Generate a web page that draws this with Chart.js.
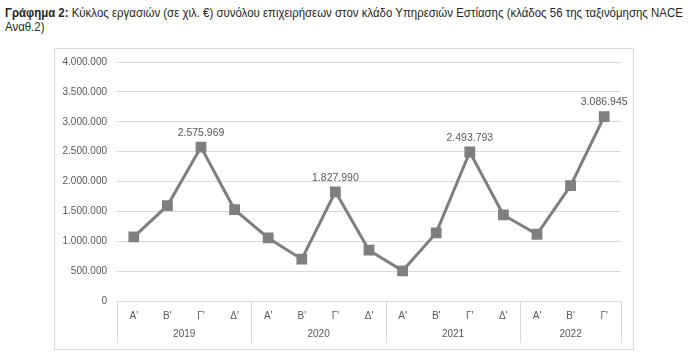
<!DOCTYPE html>
<html>
<head>
<meta charset="utf-8">
<script src="https://cdn.jsdelivr.net/npm/chart.js@4"></script>
<style>
  html, body { margin: 0; padding: 0; background: #fff; }
  body { width: 700px; height: 358px; position: relative; overflow: hidden; }
  #title { position: absolute; left: 5px; top: 6px; font-family: 'Liberation Sans', sans-serif; font-size: 13px; line-height: 14px; color: #262626; white-space: nowrap; transform: scaleX(0.88); transform-origin: 0 0; }
  #title b { font-weight: bold; }
  #box { position: absolute; left: 54px; top: 48px; width: 578px; height: 300px; border: 1px solid #d9d9d9; }
  #box canvas { display: block; }
</style>
</head>
<body>
<div id="title"><b>Γράφημα 2:</b> Κύκλος εργασιών (σε χιλ. €) συνόλου επιχειρήσεων στον κλάδο Υπηρεσιών Εστίασης (κλάδος 56 της ταξινόμησης NACE<br>Αναθ.2)</div>
<div id="box"><canvas id="c" width="578" height="300"></canvas></div>
<script>
const quarters = ["Α'", "Β'", "Γ'", "Δ'", "Α'", "Β'", "Γ'", "Δ'", "Α'", "Β'", "Γ'", "Δ'", "Α'", "Β'", "Γ'"];
const years = ["2019", "2020", "2021", "2022"];
const yearQuarterCounts = [4, 4, 4, 3];
const turnover = [1072000, 1595000, 2575969, 1528000, 1055000, 700000, 1827990, 850000, 505000, 1140000, 2493793, 1440000, 1117000, 1930000, 3086945];
const labelledIndices = [2, 6, 10, 14];

function fmt(v) {
  return String(Math.round(v)).replace(/\B(?=(\d{3})+(?!\d))/g, '.');
}

const boundaries = [0];
const centres = [];
yearQuarterCounts.forEach(n => { const s = boundaries[boundaries.length - 1]; centres.push(s + n / 2); boundaries.push(s + n); });

const tickFont = { family: "'Liberation Sans', sans-serif", size: 10 };
const grey = '#595959';

const groupPlugin = {
  id: 'groupLines',
  afterDraw(chart) {
    const x2 = chart.scales.x2;
    const ctx = chart.ctx;
    ctx.save();
    ctx.strokeStyle = '#d9d9d9';
    ctx.lineWidth = 1;
    boundaries.forEach(b => {
      const px = Math.round(x2.getPixelForValue(b)) + 0.5;
      ctx.beginPath();
      ctx.moveTo(px, chart.chartArea.bottom);
      ctx.lineTo(px, x2.bottom - 2);
      ctx.stroke();
    });
    ctx.restore();
  }
};

const dataLabelPlugin = {
  id: 'dataLabels',
  afterDatasetsDraw(chart) {
    const meta = chart.getDatasetMeta(0);
    const ctx = chart.ctx;
    ctx.save();
    ctx.font = "10.5px 'Liberation Sans', sans-serif";
    ctx.fillStyle = grey;
    ctx.textAlign = 'center';
    ctx.textBaseline = 'middle';
    labelledIndices.forEach(i => {
      const el = meta.data[i];
      ctx.fillText(fmt(turnover[i]), el.x, el.y - 14);
    });
    ctx.restore();
  }
};

new Chart(document.getElementById('c'), {
  type: 'line',
  data: {
    labels: quarters,
    datasets: [{
      data: turnover,
      borderColor: '#7f7f7f',
      backgroundColor: '#7f7f7f',
      borderWidth: 3,
      pointStyle: 'rect',
      pointRadius: 5.5,
      pointHoverRadius: 5.5,
      tension: 0
    }]
  },
  options: {
    responsive: false,
    animation: false,
    events: [],
    layout: { padding: { left: 0, right: 12, top: 13, bottom: 4 } },
    plugins: { legend: { display: false }, tooltip: { enabled: false } },
    scales: {
      y: {
        min: 0, max: 4000000,
        ticks: { stepSize: 500000, color: grey, font: tickFont, padding: 10, callback: v => fmt(v) },
        grid: { color: '#d9d9d9', drawTicks: false },
        border: { display: false },
        afterFit(s) { s.width = 62; s.paddingTop = 0; s.paddingBottom = 0; }
      },
      x: {
        type: 'category',
        offset: true,
        weight: 0,
        ticks: { color: grey, font: tickFont, padding: 9, maxRotation: 0, autoSkip: false },
        grid: { display: false, drawTicks: false },
        border: { display: true, color: '#d9d9d9' },
        afterFit(s) { s.height = 20; }
      },
      x2: {
        type: 'linear',
        position: 'bottom',
        weight: 1,
        min: 0, max: quarters.length,
        afterBuildTicks(s) { s.ticks = centres.map(v => ({ value: v })); },
        ticks: { color: grey, font: tickFont, padding: 7, maxRotation: 0, autoSkip: false,
          callback: (v) => { const k = centres.indexOf(v); return k >= 0 ? years[k] : ''; } },
        grid: { display: false, drawTicks: false },
        border: { display: false },
        afterFit(s) { s.height = 24; }
      }
    }
  },
  plugins: [groupPlugin, dataLabelPlugin]
});
</script>
</body>
</html>
